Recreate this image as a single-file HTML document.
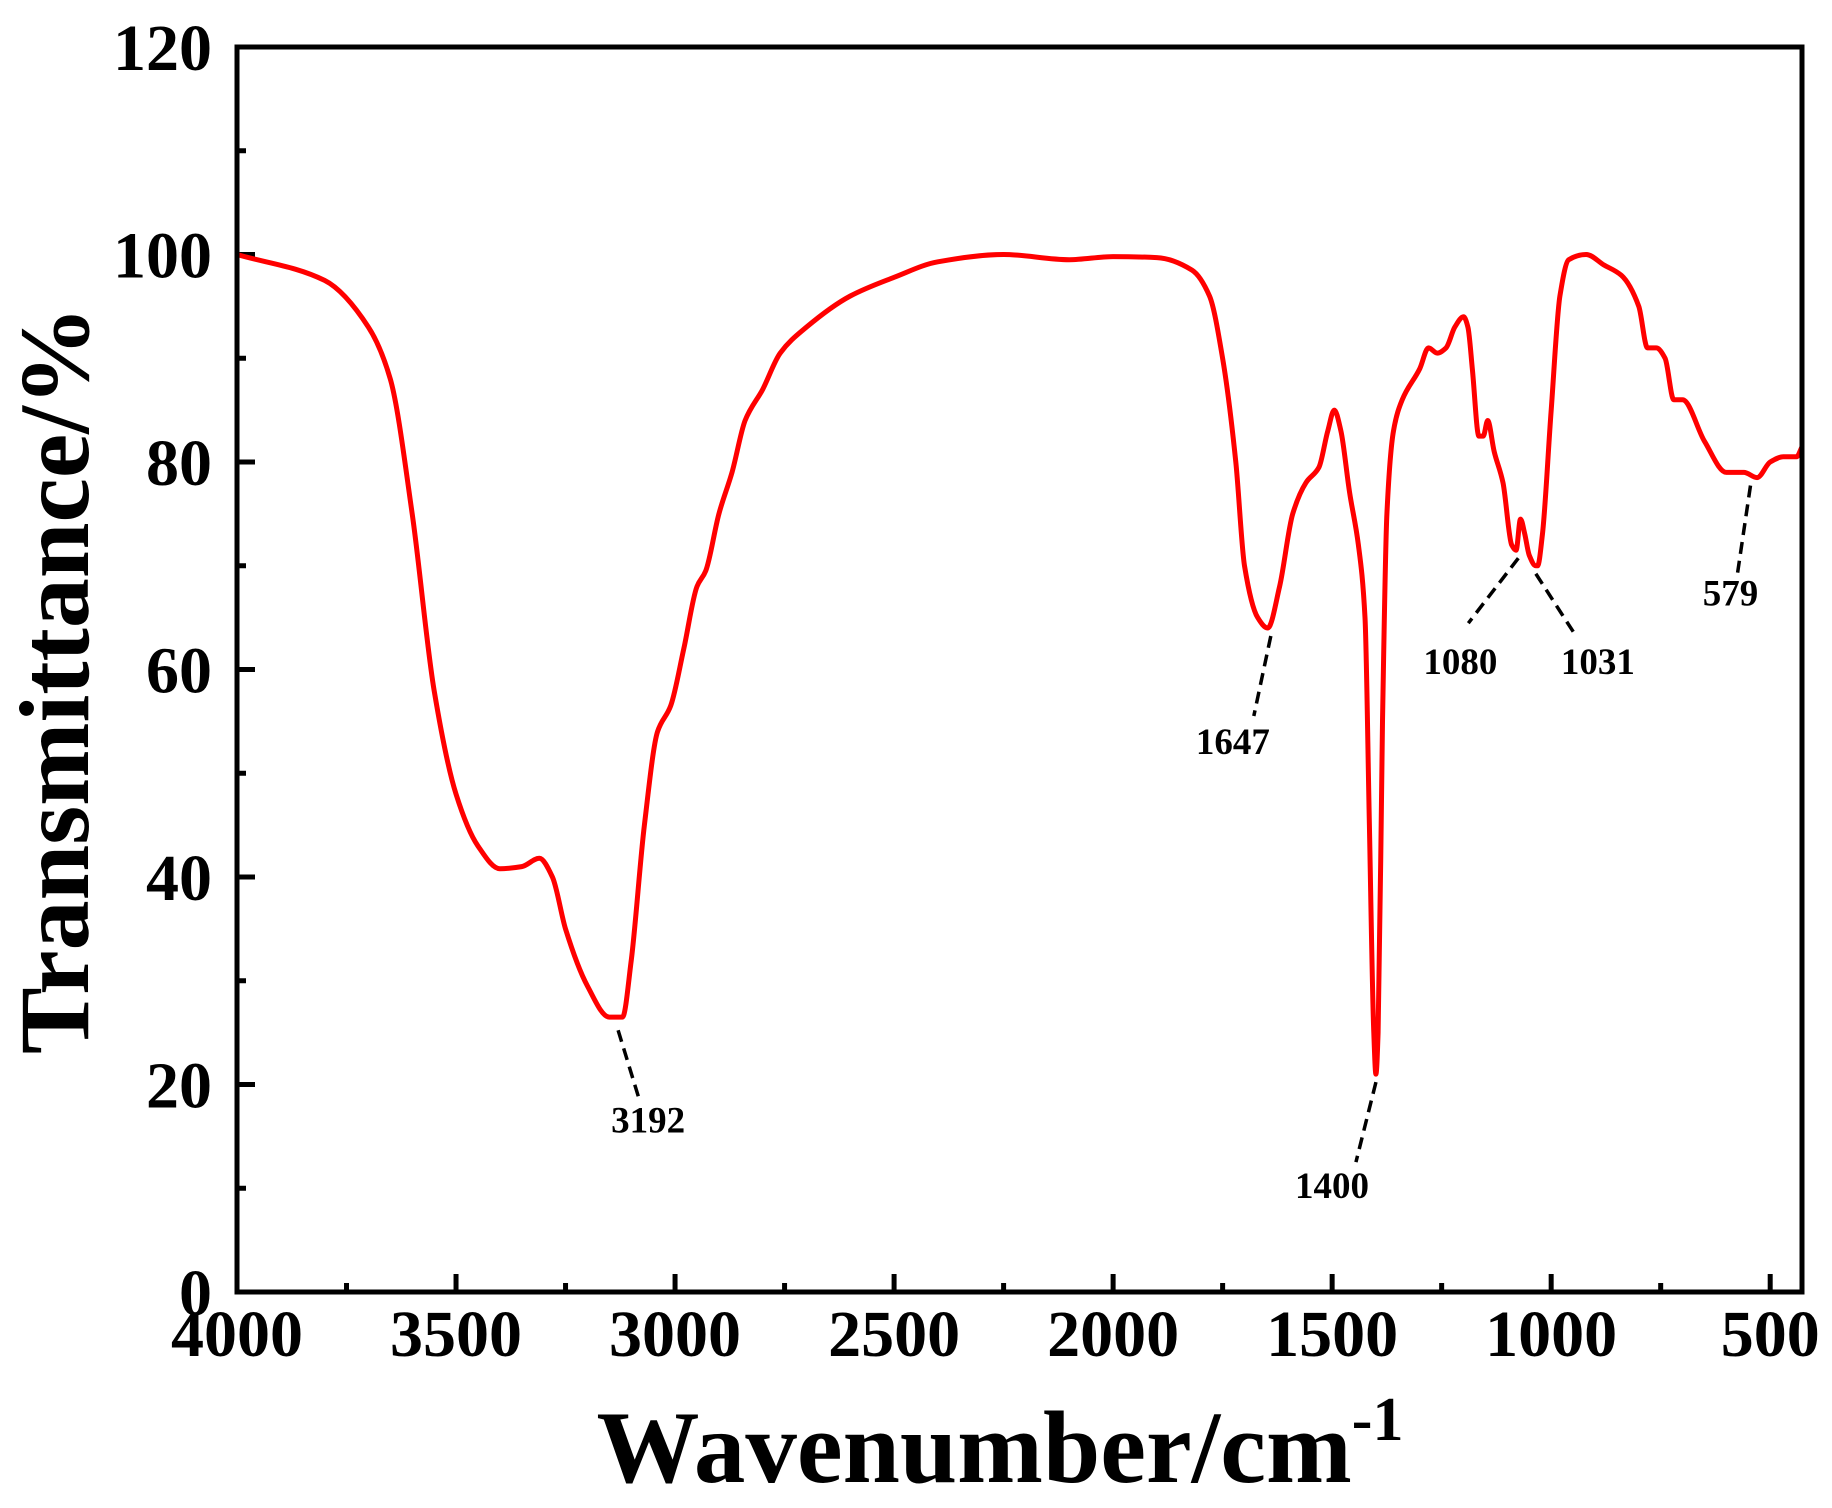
<!DOCTYPE html>
<html><head><meta charset="utf-8"><style>
html,body{margin:0;padding:0;background:#fff;}
svg{display:block;font-family:"Liberation Serif",serif;font-weight:bold;}
</style></head><body>
<svg id="chart" width="1832" height="1508" viewBox="0 0 1832 1508" xmlns="http://www.w3.org/2000/svg">
<g id="ticks"></g>
<path id="curve" fill="none" stroke="#ff0000" stroke-width="5" stroke-linejoin="round"/>
<rect x="237" y="47" width="1565" height="1245" fill="none" stroke="#000" stroke-width="5"/>
<g id="ann"></g>
<text transform="translate(88,680) rotate(-90)" text-anchor="middle" font-size="100">Transmittance/%</text>
<text x="1000" y="1482" text-anchor="middle" font-size="103">Wavenumber/cm<tspan font-size="62" dy="-42">-1</tspan></text>
</svg>
<script>
const wavenumbers=[4000,3800,3700,3650,3600,3550,3500,3450,3400,3350,3310,3280,3250,3200,3150,3120,3100,3070,3040,3010,2980,2950,2930,2900,2870,2840,2800,2760,2700,2600,2500,2400,2250,2100,2000,1900,1820,1780,1750,1720,1700,1670,1647,1620,1590,1560,1530,1510,1495,1480,1460,1440,1425,1415,1405,1400,1395,1385,1375,1360,1340,1300,1280,1260,1240,1220,1200,1190,1180,1165,1155,1145,1130,1110,1090,1080,1070,1060,1050,1035,1031,1020,1000,980,960,920,880,840,800,780,760,740,720,700,650,600,560,530,500,470,440,427];
const transmittance=[100,97.5,93,88,75,58,48,43,40.8,41,41.8,40,35,29.5,26.5,26.5,32,45,54,56.5,62,68,69.5,75,79,84,87,90.5,93,96,97.8,99.3,100,99.5,99.8,99.7,98.5,96,90,80,70,65,64,68,75,78,79.5,83,85,83,77,72,65,45,25,21,25,55,75,83,86,89,91,90.5,91,93,94,93,89,82.5,82.5,84,81,78,72,71.5,74.5,73,71,70,70,73,85,96,99.5,100,99,98,95,91,91,90,86,86,82,79,79,78.5,80,80.5,80.5,81.5];
const yTicks=[0,20,40,60,80,100,120];
const xTicks=[4000,3500,3000,2500,2000,1500,1000,500];
const peakLabels=["3192","1400","1647","1080","1031","579"];
const peakWn=[3130,1400,1640,1075,1035,545];
const peakT=[26,21,64,71.5,70,78.5];

const X0=237,X1=1802,Y0=1292,Y1=47,WMAX=4000,WMIN=427.4,TMAX=120;
function sx(w){return X0+(WMAX-w)/(WMAX-WMIN)*(X1-X0);}
function sy(t){return Y0-t/TMAX*(Y0-Y1);}
const NS="http://www.w3.org/2000/svg";
function mk(tag,attrs,parent){const e=document.createElementNS(NS,tag);for(const k in attrs)e.setAttribute(k,attrs[k]);parent.appendChild(e);return e;}

// monotone cubic path
const px=wavenumbers.map(sx), py=transmittance.map(sy);
const n=px.length, dx=[], sl=[], m=[];
for(let i=0;i<n-1;i++){dx.push(px[i+1]-px[i]);sl.push((py[i+1]-py[i])/dx[i]);}
m[0]=sl[0];m[n-1]=sl[n-2];
for(let i=1;i<n-1;i++){
  if(sl[i-1]*sl[i]<=0)m[i]=0;
  else{const w1=2*dx[i]+dx[i-1],w2=dx[i]+2*dx[i-1];m[i]=(w1+w2)/(w1/sl[i-1]+w2/sl[i]);}
}
let d="M"+px[0].toFixed(1)+","+py[0].toFixed(1);
for(let i=0;i<n-1;i++){
  const h=dx[i]/3;
  d+="C"+(px[i]+h).toFixed(1)+","+(py[i]+m[i]*h).toFixed(1)+" "+(px[i+1]-h).toFixed(1)+","+(py[i+1]-m[i+1]*h).toFixed(1)+" "+px[i+1].toFixed(1)+","+py[i+1].toFixed(1);
}
document.getElementById("curve").setAttribute("d",d);

const g=document.getElementById("ticks");
for(let v=0;v<=120;v+=10){
  const major=v%20===0;
  const t=mk("line",{x1:X0,x2:X0+(major?18:9),y1:sy(v),y2:sy(v),stroke:"#000","stroke-width":5},g);
  
  
}
yTicks.forEach(v=>{
  const t=mk("text",{x:212,y:sy(v)+23,"text-anchor":"end","font-size":66},g);
  t.textContent=v;
  
  
});
for(let w=4000;w>=500;w-=250){
  const major=w%500===0;
  const t=mk("line",{x1:sx(w),x2:sx(w),y1:Y0,y2:Y0-(major?18:9),stroke:"#000","stroke-width":5},g);
  
  
}
xTicks.forEach(w=>{
  const t=mk("text",{x:sx(w),y:1356,"text-anchor":"middle","font-size":66},g);
  t.textContent=w;
  
  
});

const a=document.getElementById("ann");
const offs=[[22,72,30,90],[-20,80,-44,104],[-17,80,-38,106],[-50,65,-58,104],[40,62,62,88],[-13,88,-20,108]];
peakLabels.forEach((lab,i)=>{
  const qx=sx(peakWn[i]),qy=sy(peakT[i])+8;
  const o=offs[i];
  const l=mk("line",{x1:qx,y1:qy,x2:qx+o[0],y2:qy+o[1],stroke:"#000","stroke-width":3.5,"stroke-dasharray":"12,7"},a);
  
  
  const t=mk("text",{x:qx+o[2],y:qy+o[3]+12,"text-anchor":"middle","font-size":37},a);
  t.textContent=lab;
  
  
});
</script>
</body></html>
